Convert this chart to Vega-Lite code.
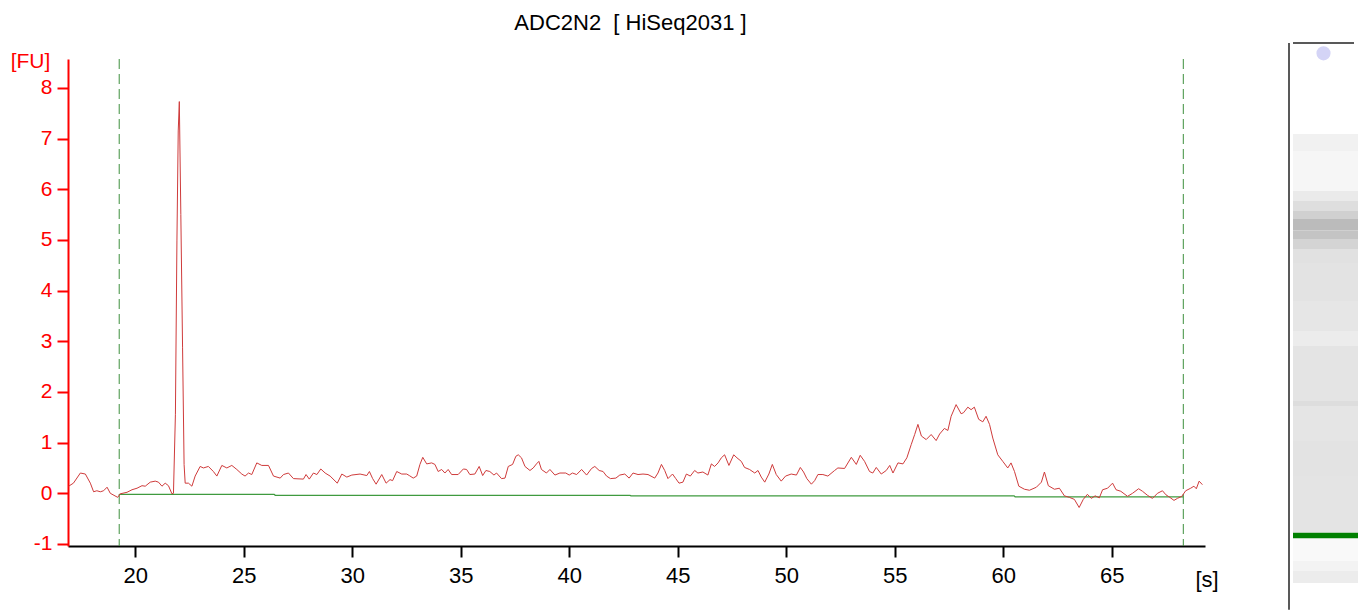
{
  "$schema": "https://vega.github.io/schema/vega-lite/v6.json",
  "padding": {"left": 10, "top": 12, "right": 0, "bottom": 0},
  "spacing": 69,
  "config": {
    "font": "Liberation Sans",
    "view": {"stroke": null},
    "axis": {"labelFont": "Liberation Sans", "titleFont": "Liberation Sans", "grid": false, "labelFlush": false, "labelOverlap": false}
  },
  "datasets": {
    "trace": [
      {"t":16.93,"fu":0.14},{"t":17.15,"fu":0.2},{"t":17.47,"fu":0.4},{"t":17.7,"fu":0.38},{"t":17.93,"fu":0.2},
      {"t":18.08,"fu":0.03},{"t":18.23,"fu":0.05},{"t":18.39,"fu":0.03},{"t":18.54,"fu":0.05},{"t":18.7,"fu":0.12},
      {"t":18.85,"fu":0.0},{"t":19.19,"fu":-0.08},{"t":19.31,"fu":-0.01},{"t":19.62,"fu":0.02},{"t":19.85,"fu":0.07},
      {"t":20.08,"fu":0.1},{"t":20.31,"fu":0.15},{"t":20.46,"fu":0.14},{"t":20.69,"fu":0.22},{"t":20.92,"fu":0.24},
      {"t":21.07,"fu":0.22},{"t":21.23,"fu":0.14},{"t":21.38,"fu":0.2},{"t":21.53,"fu":0.15},{"t":21.69,"fu":-0.01},
      {"t":21.76,"fu":0.0},{"t":21.85,"fu":1.56},{"t":21.92,"fu":4.98},{"t":21.98,"fu":7.15},{"t":22.03,"fu":7.73},
      {"t":22.1,"fu":5.5},{"t":22.18,"fu":2.87},{"t":22.25,"fu":0.57},{"t":22.3,"fu":0.2},{"t":22.45,"fu":0.2},
      {"t":22.61,"fu":0.14},{"t":22.76,"fu":0.34},{"t":22.99,"fu":0.53},{"t":23.14,"fu":0.5},{"t":23.37,"fu":0.53},
      {"t":23.6,"fu":0.43},{"t":23.76,"fu":0.34},{"t":23.99,"fu":0.55},{"t":24.22,"fu":0.5},{"t":24.45,"fu":0.55},
      {"t":24.68,"fu":0.47},{"t":24.91,"fu":0.38},{"t":25.06,"fu":0.34},{"t":25.22,"fu":0.4},{"t":25.37,"fu":0.37},
      {"t":25.6,"fu":0.6},{"t":25.83,"fu":0.55},{"t":26.14,"fu":0.55},{"t":26.37,"fu":0.34},{"t":26.68,"fu":0.3},
      {"t":26.83,"fu":0.37},{"t":27.06,"fu":0.4},{"t":27.29,"fu":0.29},{"t":27.75,"fu":0.28},{"t":27.87,"fu":0.37},
      {"t":28.02,"fu":0.28},{"t":28.21,"fu":0.4},{"t":28.37,"fu":0.37},{"t":28.55,"fu":0.48},{"t":28.75,"fu":0.4},
      {"t":28.98,"fu":0.34},{"t":29.31,"fu":0.2},{"t":29.52,"fu":0.38},{"t":29.75,"fu":0.32},{"t":29.98,"fu":0.36},
      {"t":30.36,"fu":0.38},{"t":30.67,"fu":0.35},{"t":30.79,"fu":0.43},{"t":30.94,"fu":0.29},{"t":31.1,"fu":0.18},
      {"t":31.36,"fu":0.37},{"t":31.56,"fu":0.2},{"t":31.74,"fu":0.27},{"t":31.86,"fu":0.25},{"t":32.05,"fu":0.43},
      {"t":32.28,"fu":0.38},{"t":32.51,"fu":0.38},{"t":32.63,"fu":0.35},{"t":32.81,"fu":0.3},{"t":32.97,"fu":0.34},
      {"t":33.12,"fu":0.57},{"t":33.25,"fu":0.71},{"t":33.43,"fu":0.58},{"t":33.66,"fu":0.6},{"t":33.81,"fu":0.57},
      {"t":33.96,"fu":0.43},{"t":34.12,"fu":0.47},{"t":34.27,"fu":0.4},{"t":34.42,"fu":0.47},{"t":34.58,"fu":0.37},
      {"t":34.88,"fu":0.37},{"t":35.12,"fu":0.48},{"t":35.27,"fu":0.47},{"t":35.42,"fu":0.37},{"t":35.65,"fu":0.38},
      {"t":35.85,"fu":0.53},{"t":36.01,"fu":0.35},{"t":36.16,"fu":0.45},{"t":36.34,"fu":0.43},{"t":36.53,"fu":0.36},
      {"t":36.65,"fu":0.4},{"t":36.88,"fu":0.29},{"t":37.04,"fu":0.3},{"t":37.19,"fu":0.53},{"t":37.39,"fu":0.57},
      {"t":37.54,"fu":0.73},{"t":37.65,"fu":0.76},{"t":37.8,"fu":0.7},{"t":37.96,"fu":0.53},{"t":38.19,"fu":0.45},
      {"t":38.34,"fu":0.5},{"t":38.49,"fu":0.58},{"t":38.6,"fu":0.63},{"t":38.72,"fu":0.47},{"t":38.95,"fu":0.4},
      {"t":39.11,"fu":0.47},{"t":39.34,"fu":0.36},{"t":39.57,"fu":0.4},{"t":39.84,"fu":0.4},{"t":40.0,"fu":0.36},
      {"t":40.15,"fu":0.4},{"t":40.34,"fu":0.37},{"t":40.57,"fu":0.47},{"t":40.8,"fu":0.36},{"t":41.03,"fu":0.49},
      {"t":41.18,"fu":0.53},{"t":41.38,"fu":0.45},{"t":41.56,"fu":0.43},{"t":41.72,"fu":0.34},{"t":41.9,"fu":0.29},
      {"t":42.15,"fu":0.3},{"t":42.33,"fu":0.36},{"t":42.56,"fu":0.38},{"t":42.76,"fu":0.3},{"t":42.94,"fu":0.4},
      {"t":43.17,"fu":0.37},{"t":43.4,"fu":0.38},{"t":43.63,"fu":0.37},{"t":43.94,"fu":0.3},{"t":44.09,"fu":0.4},
      {"t":44.25,"fu":0.57},{"t":44.4,"fu":0.45},{"t":44.55,"fu":0.29},{"t":44.76,"fu":0.38},{"t":44.91,"fu":0.29},
      {"t":45.06,"fu":0.2},{"t":45.24,"fu":0.22},{"t":45.4,"fu":0.38},{"t":45.58,"fu":0.34},{"t":45.78,"fu":0.45},
      {"t":45.93,"fu":0.4},{"t":46.16,"fu":0.42},{"t":46.39,"fu":0.36},{"t":46.55,"fu":0.58},{"t":46.7,"fu":0.53},
      {"t":46.86,"fu":0.6},{"t":47.01,"fu":0.7},{"t":47.16,"fu":0.76},{"t":47.36,"fu":0.55},{"t":47.58,"fu":0.76},
      {"t":47.73,"fu":0.7},{"t":47.93,"fu":0.63},{"t":48.08,"fu":0.51},{"t":48.31,"fu":0.47},{"t":48.55,"fu":0.4},
      {"t":48.7,"fu":0.45},{"t":48.85,"fu":0.32},{"t":49.01,"fu":0.22},{"t":49.2,"fu":0.38},{"t":49.36,"fu":0.57},
      {"t":49.54,"fu":0.37},{"t":49.77,"fu":0.24},{"t":49.97,"fu":0.34},{"t":50.23,"fu":0.38},{"t":50.47,"fu":0.36},
      {"t":50.65,"fu":0.51},{"t":50.8,"fu":0.42},{"t":50.95,"fu":0.29},{"t":51.16,"fu":0.18},{"t":51.31,"fu":0.25},
      {"t":51.46,"fu":0.37},{"t":51.69,"fu":0.37},{"t":51.92,"fu":0.34},{"t":52.23,"fu":0.45},{"t":52.38,"fu":0.5},
      {"t":52.69,"fu":0.49},{"t":53.0,"fu":0.71},{"t":53.23,"fu":0.57},{"t":53.41,"fu":0.75},{"t":53.61,"fu":0.63},
      {"t":53.84,"fu":0.43},{"t":53.99,"fu":0.4},{"t":54.15,"fu":0.51},{"t":54.38,"fu":0.38},{"t":54.61,"fu":0.45},
      {"t":54.77,"fu":0.55},{"t":54.92,"fu":0.4},{"t":55.15,"fu":0.6},{"t":55.38,"fu":0.58},{"t":55.56,"fu":0.7},
      {"t":55.76,"fu":0.96},{"t":55.92,"fu":1.16},{"t":56.07,"fu":1.36},{"t":56.23,"fu":1.13},{"t":56.45,"fu":1.06},
      {"t":56.68,"fu":1.16},{"t":56.91,"fu":1.04},{"t":57.07,"fu":1.17},{"t":57.29,"fu":1.28},{"t":57.45,"fu":1.24},
      {"t":57.6,"fu":1.52},{"t":57.83,"fu":1.75},{"t":58.06,"fu":1.57},{"t":58.17,"fu":1.59},{"t":58.37,"fu":1.7},
      {"t":58.52,"fu":1.65},{"t":58.67,"fu":1.7},{"t":58.87,"fu":1.46},{"t":59.06,"fu":1.41},{"t":59.21,"fu":1.52},
      {"t":59.37,"fu":1.36},{"t":59.52,"fu":1.09},{"t":59.75,"fu":0.76},{"t":59.98,"fu":0.63},{"t":60.21,"fu":0.5},
      {"t":60.36,"fu":0.6},{"t":60.52,"fu":0.43},{"t":60.72,"fu":0.14},{"t":60.98,"fu":0.08},{"t":61.21,"fu":0.06},
      {"t":61.53,"fu":0.12},{"t":61.76,"fu":0.22},{"t":61.9,"fu":0.42},{"t":62.08,"fu":0.15},{"t":62.36,"fu":0.08},
      {"t":62.59,"fu":0.1},{"t":62.82,"fu":-0.05},{"t":63.05,"fu":-0.08},{"t":63.28,"fu":-0.12},{"t":63.5,"fu":-0.28},
      {"t":63.69,"fu":-0.12},{"t":63.88,"fu":-0.02},{"t":64.06,"fu":-0.1},{"t":64.24,"fu":-0.05},{"t":64.43,"fu":-0.09},
      {"t":64.58,"fu":0.07},{"t":64.81,"fu":0.1},{"t":65.04,"fu":0.2},{"t":65.2,"fu":0.07},{"t":65.42,"fu":0.04},
      {"t":65.73,"fu":-0.06},{"t":65.96,"fu":0.0},{"t":66.24,"fu":0.09},{"t":66.42,"fu":0.04},{"t":66.65,"fu":-0.04},
      {"t":66.88,"fu":-0.1},{"t":67.11,"fu":0.0},{"t":67.34,"fu":0.05},{"t":67.5,"fu":-0.03},{"t":67.68,"fu":-0.08},
      {"t":67.87,"fu":-0.14},{"t":68.03,"fu":-0.1},{"t":68.23,"fu":-0.06},{"t":68.41,"fu":0.05},{"t":68.64,"fu":0.1},
      {"t":68.79,"fu":0.14},{"t":68.9,"fu":0.09},{"t":69.03,"fu":0.24},{"t":69.18,"fu":0.17}
    ],
    "baseline": [
      {"t":19.26,"fu":-0.02},{"t":26.4,"fu":-0.02},{"t":26.45,"fu":-0.04},{"t":42.8,"fu":-0.04},
      {"t":42.85,"fu":-0.05},{"t":60.5,"fu":-0.05},{"t":60.55,"fu":-0.07},{"t":68.3,"fu":-0.07}
    ],
    "cutoffs": [{"t":19.26,"fu":0},{"t":68.3,"fu":0}],
    "gel": [
      {"t0":66.74,"t1":68.72,"level":0.15},
      {"t0":62.09,"t1":66.74,"level":0.1},
      {"t0":60.93,"t1":62.09,"level":0.22},
      {"t0":59.77,"t1":60.93,"level":0.35},
      {"t0":58.83,"t1":59.77,"level":0.5},
      {"t0":57.5,"t1":58.83,"level":0.72},
      {"t0":56.51,"t1":57.5,"level":0.62},
      {"t0":55.35,"t1":56.51,"level":0.45},
      {"t0":53.72,"t1":55.35,"level":0.32},
      {"t0":49.3,"t1":53.72,"level":0.3},
      {"t0":45.81,"t1":49.3,"level":0.26},
      {"t0":44.07,"t1":45.81,"level":0.2},
      {"t0":37.67,"t1":44.07,"level":0.28},
      {"t0":37.09,"t1":37.67,"level":0.36},
      {"t0":33.02,"t1":37.09,"level":0.27},
      {"t0":28.95,"t1":33.02,"level":0.3},
      {"t0":22.36,"t1":28.95,"level":0.28},
      {"t0":19.06,"t1":21.7,"level":0.06},
      {"t0":17.9,"t1":19.06,"level":0.13},
      {"t0":16.51,"t1":17.9,"level":0.2}
    ],
    "lowerMarker": [{"t0":21.7,"t1":22.36}],
    "upperMarker": [{"t":78.1}]
  },
  "hconcat": [
    {
      "width": 1137,
      "height": 487,
      "title": {
        "text": "ADC2N2\u00a0 [ HiSeq2031 ]",
        "fontSize": 22,
        "fontWeight": "normal",
        "color": "#000000",
        "font": "Liberation Sans",
        "anchor": "middle",
        "frame": "group",
        "baseline": "alphabetic",
        "offset": -2,
        "dx": -6
      },
      "layer": [
        {
          "data": {"name": "cutoffs"},
          "mark": {"type": "rule", "color": "#3d8f3d", "strokeWidth": 1, "strokeDash": [10, 5]},
          "encoding": {
            "x": {
              "field": "t", "type": "quantitative",
              "scale": {"domain": [16.9, 69.3], "nice": false, "zero": false},
              "axis": {
                "values": [20, 25, 30, 35, 40, 45, 50, 55, 60, 65],
                "domainColor": "#000000", "domainWidth": 2,
                "tickColor": "#000000", "tickWidth": 2, "tickSize": 11,
                "labelColor": "#000000", "labelFontSize": 22, "labelPadding": 8,
                "title": "[s]", "titleColor": "#000000", "titleFontSize": 22, "titleFontWeight": "normal",
                "titleX": 1127, "titleY": 33, "titleAlign": "left", "titleBaseline": "middle"
              }
            }
          }
        },
        {
          "data": {"name": "baseline"},
          "mark": {"type": "line", "color": "#3f9a3f", "strokeWidth": 1.3},
          "encoding": {
            "x": {
              "field": "t", "type": "quantitative",
              "scale": {"domain": [16.9, 69.3], "nice": false, "zero": false},
              "axis": {
                "values": [20, 25, 30, 35, 40, 45, 50, 55, 60, 65],
                "domainColor": "#000000", "domainWidth": 2,
                "tickColor": "#000000", "tickWidth": 2, "tickSize": 11,
                "labelColor": "#000000", "labelFontSize": 22, "labelPadding": 8,
                "title": "[s]", "titleColor": "#000000", "titleFontSize": 22, "titleFontWeight": "normal",
                "titleX": 1127, "titleY": 33, "titleAlign": "left", "titleBaseline": "middle"
              }
            },
            "y": {
              "field": "fu", "type": "quantitative",
              "scale": {"domain": [-1.04, 8.57], "nice": false, "zero": false},
              "axis": {
                "values": [-1, 0, 1, 2, 3, 4, 5, 6, 7, 8],
                "labelExpr": "replace(datum.label, '\u2212', '-')",
                "domainColor": "#ff0000", "domainWidth": 2,
                "tickColor": "#ff0000", "tickWidth": 2, "tickSize": 11,
                "labelColor": "#ff0000", "labelFontSize": 21, "labelPadding": 5,
                "title": "[FU]", "titleColor": "#ff0000", "titleFontSize": 21, "titleFontWeight": "normal",
                "titleAngle": 0, "titleX": -38, "titleY": 2, "titleAlign": "center", "titleBaseline": "middle"
              }
            }
          }
        },
        {
          "data": {"name": "trace"},
          "mark": {"type": "line", "color": "#cf3b3b", "strokeWidth": 1},
          "encoding": {
            "x": {
              "field": "t", "type": "quantitative",
              "scale": {"domain": [16.9, 69.3], "nice": false, "zero": false},
              "axis": {
                "values": [20, 25, 30, 35, 40, 45, 50, 55, 60, 65],
                "domainColor": "#000000", "domainWidth": 2,
                "tickColor": "#000000", "tickWidth": 2, "tickSize": 11,
                "labelColor": "#000000", "labelFontSize": 22, "labelPadding": 8,
                "title": "[s]", "titleColor": "#000000", "titleFontSize": 22, "titleFontWeight": "normal",
                "titleX": 1127, "titleY": 33, "titleAlign": "left", "titleBaseline": "middle"
              }
            },
            "y": {
              "field": "fu", "type": "quantitative",
              "scale": {"domain": [-1.04, 8.57], "nice": false, "zero": false},
              "axis": {
                "values": [-1, 0, 1, 2, 3, 4, 5, 6, 7, 8],
                "labelExpr": "replace(datum.label, '\u2212', '-')",
                "domainColor": "#ff0000", "domainWidth": 2,
                "tickColor": "#ff0000", "tickWidth": 2, "tickSize": 11,
                "labelColor": "#ff0000", "labelFontSize": 21, "labelPadding": 5,
                "title": "[FU]", "titleColor": "#ff0000", "titleFontSize": 21, "titleFontWeight": "normal",
                "titleAngle": 0, "titleX": -38, "titleY": 2, "titleAlign": "center", "titleBaseline": "middle"
              }
            }
          }
        }
      ]
    },
    {
      "width": 65,
      "height": 487,
      "layer": [
        {
          "data": {"name": "gel"},
          "mark": {"type": "rect"},
          "encoding": {
            "y": {"field": "t0", "type": "quantitative", "scale": {"domain": [20.81, 77.44], "nice": false, "zero": false}, "axis": null},
            "y2": {"field": "t1"},
            "color": {"field": "level", "type": "quantitative", "scale": {"domain": [0, 1], "range": ["#ffffff", "#a0a0a0"], "interpolate": "rgb"}, "legend": null}
          }
        },
        {
          "data": {"name": "lowerMarker"},
          "mark": {"type": "rect", "color": "#008000"},
          "encoding": {
            "y": {"field": "t0", "type": "quantitative", "scale": {"domain": [20.81, 77.44], "nice": false, "zero": false}, "axis": null},
            "y2": {"field": "t1"}
          }
        },
        {
          "data": {"name": "upperMarker"},
          "mark": {"type": "point", "filled": true, "color": "#d4d4f6", "opacity": 1, "size": 200, "xOffset": -2},
          "encoding": {
            "y": {"field": "t", "type": "quantitative", "scale": {"domain": [20.81, 77.44], "nice": false, "zero": false}, "axis": null}
          }
        },
        {
          "data": {"values": [{}]},
          "mark": {"type": "rule", "color": "#222222", "strokeWidth": 1.5, "xOffset": -4},
          "encoding": {
            "y": {"datum": 79.3, "type": "quantitative", "scale": {"domain": [20.81, 77.44], "nice": false, "zero": false}, "axis": null}
          }
        },
        {
          "data": {"values": [{}]},
          "mark": {"type": "rule", "color": "#222222", "strokeWidth": 1.5, "xOffset": -36.5},
          "encoding": {
            "y": {"datum": 79.3, "type": "quantitative", "scale": {"domain": [20.81, 77.44], "nice": false, "zero": false}, "axis": null},
            "y2": {"datum": 13.4}
          }
        }
      ]
    }
  ]
}
